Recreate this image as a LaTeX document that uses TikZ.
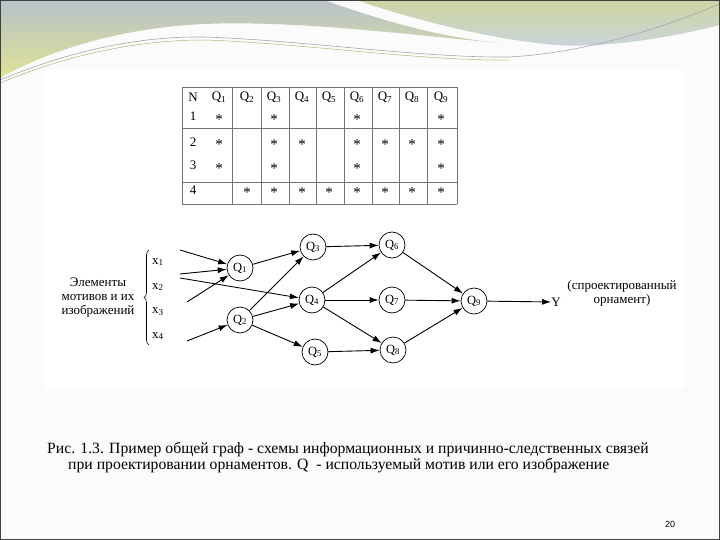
\documentclass[tikz,border=0pt]{standalone}
\usepackage{fontspec}
\setmainfont{Liberation Serif}
\newfontfamily\pagenumfont{Liberation Sans}
\usetikzlibrary{arrows.meta,decorations.pathreplacing}
\definecolor{waveBlue}{RGB}{184,194,200}
\definecolor{waveYellow}{RGB}{222,226,150}
\definecolor{waveOlive}{RGB}{206,212,160}
\definecolor{waveSky}{RGB}{202,212,222}
\tikzset{
  qnode/.style={circle, draw, line width=0.7pt, minimum size=26pt, inner sep=0pt, font=\fontsize{12.5}{12.5}\selectfont},
  link/.style={-{Latex[length=9pt,width=6pt]}, line width=0.9pt},
  cell/.style={inner sep=0pt, font=\fontsize{13}{13}\selectfont},
  tabstar/.style={inner sep=0pt, font=\fontsize{15}{15}\selectfont},
  plaintext/.style={inner sep=0pt, font=\fontsize{13}{14}\selectfont, align=center},
  captext/.style={anchor=west, inner sep=0pt, font=\fontsize{15.7}{15.7}\selectfont},
}
\begin{document}
\begin{tikzpicture}[x=1pt, y=-1pt]
% slide page, 720 x 540
\providecommand{\tabLineColor}{black!55}
\providecommand{\tabLineWidth}{0.6pt}
\useasboundingbox (0,0) rectangle (720,540);
\fill[black!1.5] (0,0) rectangle (720,540);
\fill[white] (45,70) rectangle (685,388);
% header waves
\shade[top color=waveBlue, bottom color=waveYellow] (0,0) -- (324,0) .. controls (380,20) and (440,38) .. (509,44)
  .. controls (420,36) and (300,20) .. (204,24) .. controls (120,28) and (50,50) .. (0,78) -- cycle;
\shade[top color=waveOlive, bottom color=waveSky] (356,0) -- (720,0) -- (720,25) .. controls (660,40) and (600,48) .. (555,45)
  .. controls (500,40) and (430,25) .. (356,0) -- cycle;
\draw[black!35, line width=0.6pt] (0,80) .. controls (60,55) and (130,36) .. (204,37) .. controls (300,40) and (420,58) .. (509,57)
  .. controls (600,52) and (680,20) .. (720,4);
\draw[waveYellow!80!black, line width=0.5pt] (0,83) .. controls (60,58) and (130,40) .. (204,40) .. controls (300,43) and (420,61) .. (509,60);
% table grid
\begin{scope}[draw=\tabLineColor, line width=\tabLineWidth]
  \draw (182,87) -- (457,87);
  \draw (182,128) -- (457,128);
  \draw (182,182) -- (457,182);
  \draw (182,204) -- (457,204);
  \draw (182,87) -- (182,204);
  \draw (232,87) -- (232,204);
  \draw (261,87) -- (261,204);
  \draw (289,87) -- (289,204);
  \draw (316,87) -- (316,204);
  \draw (344,87) -- (344,204);
  \draw (372,87) -- (372,204);
  \draw (399,87) -- (399,204);
  \draw (427,87) -- (427,204);
  \draw (457,87) -- (457,204);
\end{scope}
% table head and row numbers
\node[cell] (hn) at (193,97) {N};
\node[cell] (h1) at (219,97) {Q\textsubscript{1}};
\node[cell] (h2) at (247,97) {Q\textsubscript{2}};
\node[cell] (h3) at (274,97) {Q\textsubscript{3}};
\node[cell] (h4) at (302,97) {Q\textsubscript{4}};
\node[cell] (h5) at (329,97) {Q\textsubscript{5}};
\node[cell] (h6) at (357,97) {Q\textsubscript{6}};
\node[cell] (h7) at (385,97) {Q\textsubscript{7}};
\node[cell] (h8) at (412,97) {Q\textsubscript{8}};
\node[cell] (h9) at (441,97) {Q\textsubscript{9}};
\node[cell] (r1) at (193,116) {1};
\node[cell] (r2) at (193,142) {2};
\node[cell] (r3) at (193,165) {3};
\node[cell] (r4) at (193,190) {4};
% table marks
\begin{scope}[tabstar]
  \node (s11) at (219,120) {*};
  \node (s13) at (274,120) {*};
  \node (s16) at (357,120) {*};
  \node (s19) at (441,120) {*};
  \node (s21) at (219,145) {*};
  \node (s23) at (274,145) {*};
  \node (s24) at (302,145) {*};
  \node (s26) at (357,145) {*};
  \node (s27) at (385,145) {*};
  \node (s28) at (412,145) {*};
  \node (s29) at (441,145) {*};
  \node (s31) at (219,169) {*};
  \node (s33) at (274,169) {*};
  \node (s36) at (357,169) {*};
  \node (s39) at (441,169) {*};
  \node (s42) at (247,193) {*};
  \node (s43) at (274,193) {*};
  \node (s44) at (302,193) {*};
  \node (s45) at (329,193) {*};
  \node (s46) at (357,193) {*};
  \node (s47) at (385,193) {*};
  \node (s48) at (412,193) {*};
  \node (s49) at (441,193) {*};
\end{scope}
% graph: inputs
\node[plaintext] (elem) at (98,298) {Элементы\\мотивов и их\\изображений};
\coordinate (bt) at (149,250);
\coordinate (bb) at (149,345);
\draw[decorate, decoration={brace, amplitude=5pt}, line width=0.6pt] (bb) -- (bt);
\node[cell] (x1) at (158,262) {x\textsubscript{1}};
\node[cell] (x2) at (158,287) {x\textsubscript{2}};
\node[cell] (x3) at (158,312) {x\textsubscript{3}};
\node[cell] (x4) at (158,336) {x\textsubscript{4}};
\coordinate (a1) at (180,250);
\coordinate (a2) at (180,274);
\coordinate (a3) at (180,278);
\coordinate (a4) at (187,302);
\coordinate (a5) at (187,341);
% graph: motif nodes
\node[qnode] (q1) at (240,268) {Q\textsubscript{1}};
\node[qnode] (q2) at (240,320) {Q\textsubscript{2}};
\node[qnode] (q3) at (313,247) {Q\textsubscript{3}};
\node[qnode] (q4) at (312,300) {Q\textsubscript{4}};
\node[qnode] (q5) at (315,352) {Q\textsubscript{5}};
\node[qnode] (q6) at (392,245) {Q\textsubscript{6}};
\node[qnode] (q7) at (392,300) {Q\textsubscript{7}};
\node[qnode] (q8) at (393,350) {Q\textsubscript{8}};
\node[qnode] (q9) at (474,301) {Q\textsubscript{9}};
\node[cell] (y) at (556,302) {Y};
\node[plaintext] (res) at (622,293) {(спроектированный\\орнамент)};
% graph: links
\draw[link] (a1) -- (q1);
\draw[link] (a2) -- (q1);
\draw[link] (a4) -- (q1);
\draw[link] (a3) -- (q4);
\draw[link] (a5) -- (q2);
\draw[link] (q1) -- (q3);
\draw[link] (q2) -- (q3);
\draw[link] (q2) -- (q4);
\draw[link] (q2) -- (q5);
\draw[link] (q3) -- (q6);
\draw[link] (q4) -- (q6);
\draw[link] (q4) -- (q7);
\draw[link] (q4) -- (q8);
\draw[link] (q5) -- (q8);
\draw[link] (q6) -- (q9);
\draw[link] (q7) -- (q9);
\draw[link] (q8) -- (q9);
\draw[link] (q9) -- (y);
% caption and page number
\node[captext] (cap1) at (47,450) {Рис. 1.3. Пример общей граф - схемы информационных и причинно-следственных связей};
\node[captext] (cap2) at (68,466) {при проектировании орнаментов. Q\enspace - используемый мотив или его изображение};
\node[inner sep=0pt, font=\pagenumfont\fontsize{9}{9}\selectfont] (pnum) at (670,524) {20};
% outer frame
\draw[black!75, line width=1pt] (0.5,0.5) rectangle (719.5,539.5);
\end{tikzpicture}
\end{document}
